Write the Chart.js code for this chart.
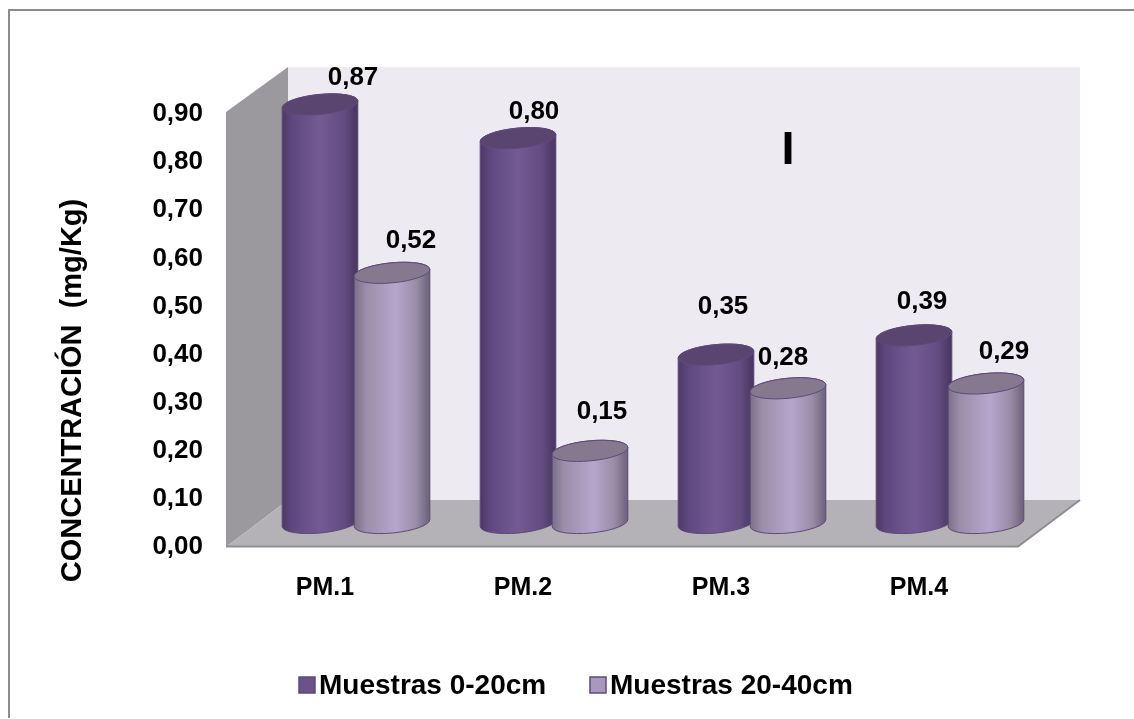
<!DOCTYPE html>
<html>
<head>
<meta charset="utf-8">
<title>Concentración</title>
<style>
  html, body { margin: 0; padding: 0; background: #fff; }
  canvas { display: block; }
</style>
<script src="https://cdn.jsdelivr.net/npm/chart.js@4"></script>
</head>
<body>
<canvas id="grafico" width="1134" height="719"></canvas>
<script>
const categorias = ["PM.1", "PM.2", "PM.3", "PM.4"];
const muestras0a20 = [0.87, 0.80, 0.35, 0.39];
const muestras20a40 = [0.52, 0.15, 0.28, 0.29];
const nombresSeries = ["Muestras 0-20cm", "Muestras 20-40cm"];
const tituloEjeY = "CONCENTRACIÓN  (mg/Kg)";
const marcaPanel = "I";

const fuente = '"Liberation Sans", Arial, sans-serif';

// caja 3D: desplazamiento de la pared del fondo respecto al plano frontal
const FONDO_X = 62;
const FONDO_Y = 47;
// la esquina superior de la caja sobresale un poco del tope de la escala
const EXTRA_SUP = 2;
// los cilindros se apoyan a media profundidad de la caja
const MEDIO_X = 31;
const MEDIO_Y = 24;

// cada etiqueta de valor va colocada a mano respecto a la tapa de su cilindro
const ajusteEtiquetas = [
  [[33, -27], [16, -26], [7, -48], [8, -34]],
  [[19, -32], [12, -39], [-5, -30], [18, -31.5]],
];

const colores = [
  {
    borde: "#5f497f",
    tapa: "#59456f",
    muestra: "#6b5289",
    cuerpo: [[0, "#4c3966"], [0.14, "#5f4880"], [0.5, "#735a93"], [0.82, "#634c80"], [1, "#46345e"]],
  },
  {
    borde: "#5f497a",
    tapa: "#86798f",
    muestra: "#a898be",
    cuerpo: [[0, "#7a6f88"], [0.16, "#9b8eaa"], [0.55, "#b5a6cc"], [0.82, "#9a8ca8"], [1, "#6a6078"]],
  },
];

const formato = (v) => v.toFixed(2).replace(".", ",");

function cilindro(ctx, cx, ySup, yInf, ancho, c) {
  const a = ancho / 2;
  const b = 10;
  const giro = (-5.5 * Math.PI) / 180;
  const grad = ctx.createLinearGradient(cx - a, 0, cx + a, 0);
  c.cuerpo.forEach(([p, col]) => grad.addColorStop(p, col));

  ctx.beginPath();
  ctx.ellipse(cx, yInf, a, b, giro, 0, Math.PI);
  ctx.ellipse(cx, ySup, a, b, giro, Math.PI, Math.PI * 2);
  ctx.closePath();
  ctx.fillStyle = grad;
  ctx.fill();
  ctx.strokeStyle = c.borde;
  ctx.lineWidth = 1;
  ctx.stroke();

  ctx.beginPath();
  ctx.ellipse(cx, ySup, a, b, giro, 0, Math.PI * 2);
  ctx.fillStyle = c.tapa;
  ctx.fill();
  ctx.stroke();
}

const escena = {
  id: "escena",
  beforeDraw(chart) {
    const { ctx, width, height } = chart;
    ctx.save();
    ctx.fillStyle = "#fff";
    ctx.fillRect(0, 0, width, height);
    // marco: solo arriba y a la izquierda
    ctx.strokeStyle = "#8c8c8c";
    ctx.lineWidth = 2;
    ctx.beginPath();
    ctx.moveTo(9, 718);
    ctx.lineTo(9, 10);
    ctx.lineTo(width, 10);
    ctx.stroke();
    ctx.restore();
  },
  beforeDatasetsDraw(chart) {
    const { ctx, chartArea: { left, right, top, bottom } } = chart;
    const arriba = top - EXTRA_SUP;
    ctx.save();

    // pared del fondo
    ctx.fillStyle = "#edebf1";
    ctx.fillRect(left + FONDO_X, arriba - FONDO_Y + 2, right - left, bottom - arriba);

    // pared izquierda
    ctx.beginPath();
    ctx.moveTo(left, arriba);
    ctx.lineTo(left + FONDO_X, arriba - FONDO_Y + 2);
    ctx.lineTo(left + FONDO_X, bottom - FONDO_Y);
    ctx.lineTo(left, bottom);
    ctx.closePath();
    ctx.fillStyle = "#9b999e";
    ctx.fill();

    // piso
    ctx.beginPath();
    ctx.moveTo(left, bottom);
    ctx.lineTo(left + FONDO_X, bottom - FONDO_Y);
    ctx.lineTo(right + FONDO_X, bottom - FONDO_Y);
    ctx.lineTo(right, bottom);
    ctx.closePath();
    ctx.fillStyle = "#b4b2b6";
    ctx.fill();
    ctx.strokeStyle = "#8f8d91";
    ctx.lineWidth = 2;
    ctx.beginPath();
    ctx.moveTo(left, bottom - 0.5);
    ctx.lineTo(right, bottom - 0.5);
    ctx.lineTo(right + FONDO_X, bottom - FONDO_Y);
    ctx.stroke();

    ctx.fillStyle = "#000";
    ctx.font = "bold 47px " + fuente;
    ctx.textAlign = "center";
    ctx.textBaseline = "middle";
    ctx.fillText(marcaPanel, 788, 151);

    categorias.forEach((_, i) => {
      chart.data.datasets.forEach((ds, d) => {
        const barra = chart.getDatasetMeta(d).data[i];
        cilindro(
          ctx,
          barra.x + MEDIO_X,
          barra.y - MEDIO_Y,
          barra.base - MEDIO_Y,
          barra.width,
          colores[d]
        );
      });
    });

    ctx.restore();
    return false;
  },
  afterDraw(chart) {
    const { ctx } = chart;
    ctx.save();
    ctx.fillStyle = "#000";
    ctx.textAlign = "center";
    ctx.textBaseline = "middle";

    // valores sobre cada cilindro
    ctx.font = "bold 26px " + fuente;
    chart.data.datasets.forEach((ds, d) => {
      chart.getDatasetMeta(d).data.forEach((barra, i) => {
        const [ox, oy] = ajusteEtiquetas[d][i];
        ctx.fillText(formato(ds.data[i]), barra.x + MEDIO_X + ox, barra.y - MEDIO_Y + oy);
      });
    });

    // titulo del eje Y
    ctx.save();
    ctx.translate(72.5, 390.5);
    ctx.rotate(-Math.PI / 2);
    ctx.font = "bold 29px " + fuente;
    ctx.fillText(tituloEjeY, 0, 0);
    ctx.restore();

    // leyenda
    ctx.font = "bold 28px " + fuente;
    ctx.textAlign = "left";
    [299, 590].forEach((x, d) => {
      ctx.fillStyle = colores[d].muestra;
      ctx.strokeStyle = colores[d].borde;
      ctx.lineWidth = 1.5;
      ctx.fillRect(x, 677, 16, 16);
      ctx.strokeRect(x, 677, 16, 16);
      ctx.fillStyle = "#000";
      ctx.fillText(nombresSeries[d], x + 20, 686.5);
    });
    ctx.restore();
  },
};

new Chart(document.getElementById("grafico"), {
  type: "bar",
  data: {
    labels: categorias,
    datasets: [
      { label: nombresSeries[0], data: muestras0a20, backgroundColor: colores[0].muestra },
      { label: nombresSeries[1], data: muestras20a40, backgroundColor: colores[1].muestra },
    ],
  },
  options: {
    responsive: false,
    animation: false,
    categoryPercentage: 0.727,
    barPercentage: 1.056,
    layout: { padding: { top: 114, right: 116 } },
    plugins: { legend: { display: false }, tooltip: { enabled: false } },
    scales: {
      x: {
        grid: { display: false, drawTicks: false },
        border: { display: false },
        ticks: { color: "#000", padding: 26, font: { family: fuente, size: 25, weight: "bold" } },
        afterFit(scale) { scale.height = 172; },
      },
      y: {
        min: 0,
        max: 0.9,
        grid: { display: false, drawTicks: false },
        border: { display: false },
        ticks: {
          stepSize: 0.1,
          color: "#000",
          padding: 23,
          font: { family: fuente, size: 26, weight: "bold" },
          callback: (v) => formato(v),
        },
        afterFit(scale) { scale.width = 226; },
      },
    },
  },
  plugins: [escena],
});
</script>
</body>
</html>
